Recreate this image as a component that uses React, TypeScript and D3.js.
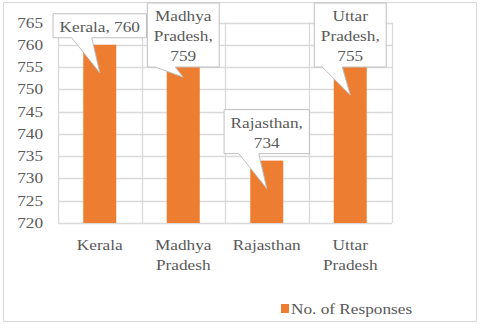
import React, { useMemo } from "react";
import * as d3 from "d3";

const categories: string[][] = [["Kerala"], ["Madhya", "Pradesh"], ["Rajasthan"], ["Uttar", "Pradesh"]];
const labelLines: string[][] = [["Kerala, 760"], ["Madhya", "Pradesh,", "759"], ["Rajasthan,", "734"], ["Uttar", "Pradesh,", "755"]];
const values: number[] = [760, 759, 734, 755];
const yTicks: number[] = [720, 725, 730, 735, 740, 745, 750, 755, 760, 765];
const seriesName = "No. of Responses";

const W = 480, H = 324;
const SX = 1.15;
const FS = 15;
const FONT_CSS = `"Times New Roman", "Liberation Serif", Tinos, "DejaVu Serif", serif`;
const TXT = "#595959";
const GRID = "#d9d9d9";
const ORANGE = "#ED7D31";

function measure(s: string): number {
  const c = document.createElement("canvas").getContext("2d");
  if (!c) return s.length * 7 * SX;
  c.font = `${FS}px ${FONT_CSS}`;
  return c.measureText(s).width * SX;
}

function Txt({ x, y, anchor = "start", children }: { x: number; y: number; anchor?: string; children: string }) {
  return (
    <text transform={`translate(${x},${y}) scale(${SX},1)`} textAnchor={anchor as any} style={{ fontFamily: FONT_CSS, fontSize: FS }} fill={TXT}>
      {children}
    </text>
  );
}

export default function App() {
  const left = 58, right = 392, top = 22.5, bottom = 223;
  const x = d3.scaleBand<number>().domain(d3.range(values.length)).range([left, right]).paddingInner(0).paddingOuter(0);
  const y = d3.scaleLinear().domain([720, 765]).range([bottom, top]);
  const barW = 33;

  const callouts = useMemo(() => {
    return values.map((v, i) => {
      const cx = x(i)! + x.bandwidth() / 2;
      const tipY = y(v) + 28;
      const lines = labelLines[i];
      const tw = Math.max(...lines.map(measure));
      const bw = tw + 13;
      const bh = lines.length * 20 + 4;
      const bBottom0 = tipY - 35;
      const bTop = Math.max(3, bBottom0 - bh);
      const bBottom = bTop + bh;
      const bx0 = cx - bw / 2, bx1 = cx + bw / 2;
      const p1 = Math.max(bx0 + 2, cx - 28);
      const p2 = Math.min(bx1 - 2, cx - 8);
      const path = `M${bx0},${bTop}H${bx1}V${bBottom}H${p2}L${cx},${tipY}L${p1},${bBottom}H${bx0}Z`;
      return { cx, tipY, lines, bTop, bBottom, bh, path };
    });
  }, []);

  return (
    <svg width={W} height={H} style={{ position: "absolute", left: 0, top: 0, background: "#fff" }}>
      <rect x={3.5} y={2.5} width={473} height={319} fill="#fff" stroke={GRID} />
      {yTicks.map((t) => (
        <g key={t}>
          <line x1={left} x2={right} y1={Math.round(y(t)) + 0.5} y2={Math.round(y(t)) + 0.5} stroke={GRID} strokeWidth={1.3} />
          <Txt x={43} y={y(t) + 5} anchor="end">{String(t)}</Txt>
        </g>
      ))}
      {d3.range(values.length + 1).map((i) => {
        const xx = i < values.length ? x(i)! : right;
        return <line key={i} x1={Math.round(xx) + 0.5} x2={Math.round(xx) + 0.5} y1={top} y2={bottom} stroke={GRID} strokeWidth={1.3} />;
      })}
      {values.map((v, i) => (
        <rect key={i} x={x(i)! + x.bandwidth() / 2 - barW / 2} y={y(v)} width={barW} height={bottom - y(v)} fill={ORANGE} />
      ))}
      {categories.map((lines, i) => (
        <g key={i}>
          {lines.map((l, j) => (
            <Txt key={j} x={x(i)! + x.bandwidth() / 2} y={250 + j * 20} anchor="middle">{l}</Txt>
          ))}
        </g>
      ))}
      {callouts.map((c, i) => (
        <g key={i}>
          <path d={c.path} fill="#fff" stroke="#bfbfbf" strokeWidth={1} />
          {c.lines.map((l, j) => (
            <Txt key={j} x={c.cx} y={c.bTop + 18 + j * 20} anchor="middle">{l}</Txt>
          ))}
        </g>
      ))}
      <rect x={281} y={304} width={8} height={9} fill={ORANGE} />
      <Txt x={291} y={314}>{seriesName}</Txt>
    </svg>
  );
}
